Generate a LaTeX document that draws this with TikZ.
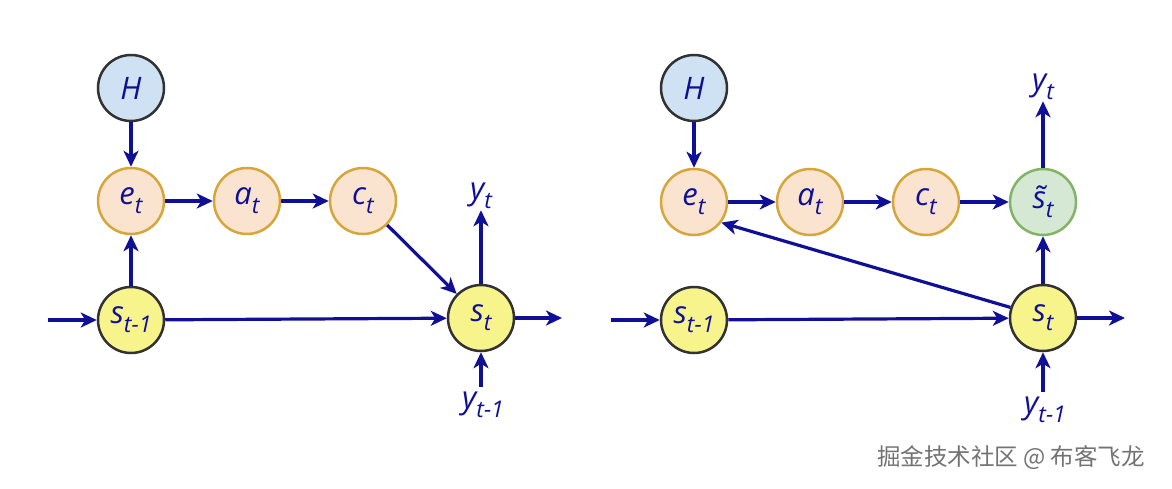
\documentclass[tikz,border=0pt]{standalone}
\usepackage{fontspec}
\setmainfont{Open Sans}
\newfontfamily\cjk{Noto Sans CJK SC}
\usetikzlibrary{arrows.meta}
\definecolor{navy}{RGB}{16,16,150}
\definecolor{hfill}{RGB}{207,226,243}
\definecolor{ofill}{RGB}{250,228,208}
\definecolor{oborder}{RGB}{214,166,58}
\definecolor{yfill}{RGB}{247,244,140}
\definecolor{gfill}{RGB}{213,232,212}
\definecolor{gborder}{RGB}{130,179,102}
\definecolor{dgray}{RGB}{50,50,50}
\newcommand\lsub[1]{\raisebox{-0.3em}{\fontsize{23}{23}\selectfont #1}}
\begin{document}
\begin{tikzpicture}[x=1pt,y=-1pt,
  nd/.style={circle,minimum size=66pt,inner sep=0pt,line width=2.5pt,text=navy,font=\fontsize{31}{31}\selectfont\itshape},
  hnode/.style={nd,fill=hfill,draw=dgray},
  onode/.style={nd,fill=ofill,draw=oborder},
  snode/.style={nd,fill=yfill,draw=dgray},
  gnode/.style={nd,fill=gfill,draw=gborder},
  lbl/.style={text=navy,font=\fontsize{31}{31}\selectfont\itshape,inner sep=1pt},
  arr/.style={draw=navy,line width=3.2pt,-{Stealth[length=16pt,width=15pt,inset=4.5pt]}}
]
\useasboundingbox (0,0) rectangle (1172,488);
% left panel
\node[hnode] (H1) at (131,88) {H};
\node[onode] (e1) at (131,201) {e\lsub{t}};
\node[onode] (a1) at (247,201) {a\lsub{t}};
\node[onode] (c1) at (363,201) {c\lsub{t}};
\node[snode] (sp1) at (131,320) {s\lsub{t-1}};
\node[snode] (s1) at (481,318) {s\lsub{t}};
\node[lbl] (yt1) at (481,196) {y\lsub{t}};
\node[lbl] (yp1) at (483,405) {y\lsub{t-1}};
\coordinate (in1) at (48,320);
\coordinate (out1) at (562,318);
\draw[arr] (H1) -- (e1);
\draw[arr] (e1) -- (a1);
\draw[arr] (a1) -- (c1);
\draw[arr] (sp1) -- (e1);
\draw[arr] (c1) -- (s1);
\draw[arr] (in1) -- (sp1);
\draw[arr] (sp1) -- (s1);
\draw[arr] (s1) -- (out1);
\draw[arr] (s1) -- (yt1.south -| s1);
\draw[arr] (yp1.north -| s1) ++(0,-4) -- (s1);
% right panel
\node[hnode] (H2) at (694,88) {H};
\node[onode] (e2) at (694,202) {e\lsub{t}};
\node[onode] (a2) at (810,202) {a\lsub{t}};
\node[onode] (c2) at (926,202) {c\lsub{t}};
\node[gnode] (g2) at (1043,202) {\~{s}\lsub{t}};
\node[snode] (sp2) at (694,320) {s\lsub{t-1}};
\node[snode] (s2) at (1043,318) {s\lsub{t}};
\node[lbl] (yt2) at (1043,87) {y\lsub{t}};
\node[lbl] (yp2) at (1045,410) {y\lsub{t-1}};
\coordinate (in2) at (611,320);
\coordinate (out2) at (1125,318);
\draw[arr] (H2) -- (e2);
\draw[arr] (e2) -- (a2);
\draw[arr] (a2) -- (c2);
\draw[arr] (c2) -- (g2);
\draw[arr] (g2) -- (yt2.south -| g2);
\draw[arr] (s2) -- (g2);
\draw[arr] (s2.162) -- (e2.-37);
\draw[arr] (in2) -- (sp2);
\draw[arr] (sp2) -- (s2);
\draw[arr] (s2) -- (out2);
\draw[arr] (yp2.north -| s2) ++(0,-4) -- (s2);
% watermark
\node[text=black!55,font=\cjk\fontsize{23.5}{23.5}\selectfont,inner sep=0pt] (wm) at (1011,458) {掘金技术社区 @ 布客飞龙};
\end{tikzpicture}
\end{document}
